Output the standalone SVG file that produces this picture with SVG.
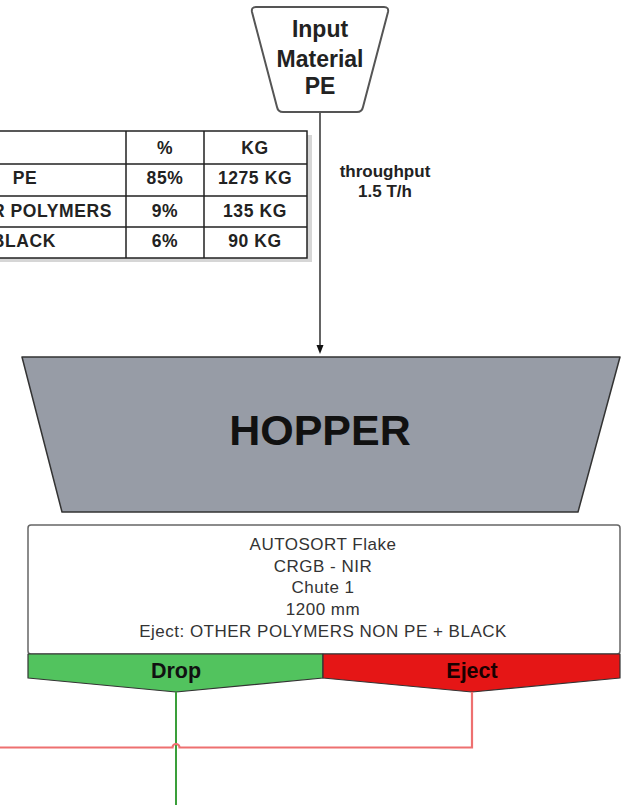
<svg xmlns="http://www.w3.org/2000/svg" width="628" height="805" viewBox="0 0 628 805">
<style>
text{font-family:"Liberation Sans",Arial,sans-serif;fill:#222;text-anchor:middle}
.b{font-weight:bold}
.tb{font-size:17.5px;font-weight:bold;letter-spacing:0.6px}
.info{font-size:17px;fill:#333;letter-spacing:0.5px}
.lbl{font-size:21.5px;font-weight:bold}
</style>
<rect width="628" height="805" fill="#fff"/>

<g id="input">
<path d="M256,7 L384,7 Q389,7 388,12 L363,107 Q362,112 357,112 L283,112 Q278,112 277,107 L252,12 Q251,7 256,7 Z" fill="#fff" stroke="#555" stroke-width="2"/>
<text class="b" x="320" y="37" font-size="23">Input</text>
<text class="b" x="320" y="66.5" font-size="23">Material</text>
<text class="b" x="320" y="93.5" font-size="23">PE</text>
</g>

<g id="table">
<rect x="-76" y="135" width="388" height="127" fill="#d6d6d6"/>
<rect x="-80" y="131" width="387" height="127" fill="#fff" stroke="#222" stroke-width="1.5"/>
<path d="M-80,164 H307 M-80,196 H307 M-80,227 H307 M126,131 V258 M204,131 V258" stroke="#222" stroke-width="1.5" fill="none"/>
<text class="tb" x="165" y="154">%</text>
<text class="tb" x="255" y="154">KG</text>
<text class="tb" x="25" y="184">PE</text>
<text class="tb" x="165" y="184">85%</text>
<text class="tb" x="255" y="184">1275 KG</text>
<text class="tb" x="112" y="216.5" style="text-anchor:end">OTHER POLYMERS</text>
<text class="tb" x="165" y="216.5">9%</text>
<text class="tb" x="255" y="216.5">135 KG</text>
<text class="tb" x="56" y="246.5" style="text-anchor:end">BLACK</text>
<text class="tb" x="165" y="246.5">6%</text>
<text class="tb" x="255" y="246.5">90 KG</text>
</g>

<g id="hopper">
<path d="M22,357 L620,357 L578,512 L62,512 Z" fill="#979ca6" stroke="#333" stroke-width="1.5" stroke-linejoin="round"/>
<text class="b" x="320" y="445" font-size="43" style="fill:#111">HOPPER</text>
</g>

<g id="autosort">
<rect x="28" y="525" width="592" height="129" rx="3" fill="#fff" stroke="#666" stroke-width="1.5"/>
<text class="info" x="323" y="550">AUTOSORT Flake</text>
<text class="info" x="323" y="571.7">CRGB - NIR</text>
<text class="info" x="323" y="593.4">Chute 1</text>
<text class="info" x="323" y="615">1200 mm</text>
<text class="info" x="323" y="636.7">Eject: OTHER POLYMERS NON PE + BLACK</text>
</g>

<g id="drop">
<path d="M28,654 L323,654 L323,678 L176,692 L28,678 Z" fill="#52c35e" stroke="#333" stroke-width="1.2" stroke-linejoin="round"/>
<text class="lbl" x="176" y="678" style="fill:#111">Drop</text>
</g>

<g id="eject">
<path d="M323,654 L620,654 L620,678 L472,692 L323,678 Z" fill="#e51616" stroke="#333" stroke-width="1.2" stroke-linejoin="round"/>
<text class="lbl" x="472" y="678" style="fill:#1a0000">Eject</text>
</g>

<g id="connectors" fill="none">
<line x1="320" y1="113" x2="320" y2="346" stroke="#111" stroke-width="1.3"/>
<path d="M316.5,345 L323.5,345 L320,354 Z" fill="#111" stroke="none"/>
<text class="b" x="385" y="177" font-size="17">throughput</text>
<text class="b" x="385" y="197" font-size="17">1.5 T/h</text>
<path d="M176,692 V805" stroke="#3a9f3a" stroke-width="2"/>
<path d="M472,692 V747.5 H179.5 A3.5,3.5 0 0 0 172.5,747.5 H0" stroke="#ee7070" stroke-width="2.2"/>
</g>
</svg>
